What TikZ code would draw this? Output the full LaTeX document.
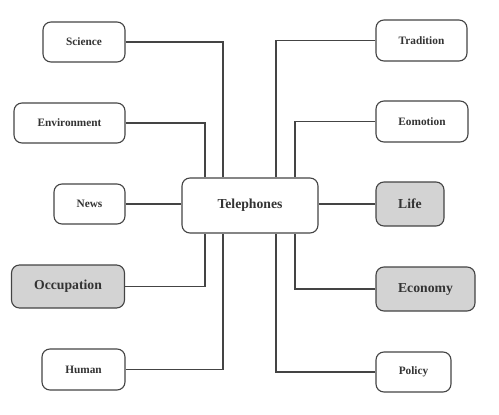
\documentclass[tikz,border=0pt]{standalone}
\usepackage{fontspec}
\setmainfont{Liberation Serif}
\usepackage{xcolor}
\usepackage{tikz}
\usetikzlibrary{positioning,calc}

\definecolor{edgegray}{HTML}{444444}
\definecolor{boxgray}{HTML}{D3D3D3}
\definecolor{textgray}{HTML}{333333}

\begin{document}
\begin{tikzpicture}[
    x=1pt, y=-1pt,
    box/.style={rectangle, rounded corners=8pt, draw=edgegray, line width=1.1pt, fill=white, text=textgray, align=center, inner sep=0pt, font=\fontsize{11.3}{13}\selectfont\bfseries},
    hibox/.style={box, fill=boxgray, font=\fontsize{13.7}{16}\selectfont\bfseries},
    centerbox/.style={box, font=\fontsize{13.7}{16}\selectfont\bfseries},
    link/.style={draw=edgegray, line width=1.1pt}
  ]
    \useasboundingbox (0,0) rectangle (499,415);

    % --- CENTRE ---
    \node[centerbox, minimum width=136pt, minimum height=55pt] (tel) at (250, 205.5) {Telephones};

    % --- LEFT BRANCHES ---
    \node[box, minimum width=82pt, minimum height=40pt] (sci) at (84, 42) {Science};
    \node[box, minimum width=111pt, minimum height=40pt] (env) at (69.5, 123) {Environment};
    \node[box, minimum width=71pt, minimum height=40pt] (news) at (89.5, 204) {News};
    \node[hibox, minimum width=113pt, minimum height=43pt] (occ) at (68, 286.5) {Occupation};
    \node[box, minimum width=83pt, minimum height=41pt] (hum) at (83.5, 369.5) {Human};

    % --- RIGHT BRANCHES ---
    \node[box, minimum width=91pt, minimum height=41pt] (trad) at (421.5, 40.5) {Tradition};
    \node[box, minimum width=92pt, minimum height=41pt] (emo) at (422, 121.5) {Eomotion};
    \node[hibox, minimum width=68pt, minimum height=44pt] (life) at (410, 204) {Life};
    \node[hibox, minimum width=99pt, minimum height=44pt] (eco) at (425.5, 289) {Economy};
    \node[box, minimum width=75pt, minimum height=40pt] (pol) at (413.5, 372) {Policy};

    % --- CONNECTORS ---
    \draw[link] (sci.east) -| ([xshift=-27pt]tel.north);
    \draw[link] (env.east) -| ([xshift=-45pt]tel.north);
    \draw[link] (news.east) -- (news.east -| tel.west);
    \draw[link] (occ.east) -| ([xshift=-45pt]tel.south);
    \draw[link] (hum.east) -| ([xshift=-27pt]tel.south);

    \draw[link] (trad.west) -| ([xshift=26pt]tel.north);
    \draw[link] (emo.west) -| ([xshift=45pt]tel.north);
    \draw[link] (life.west) -- (life.west -| tel.east);
    \draw[link] (eco.west) -| ([xshift=45pt]tel.south);
    \draw[link] (pol.west) -| ([xshift=26pt]tel.south);
  \end{tikzpicture}
\end{document}
